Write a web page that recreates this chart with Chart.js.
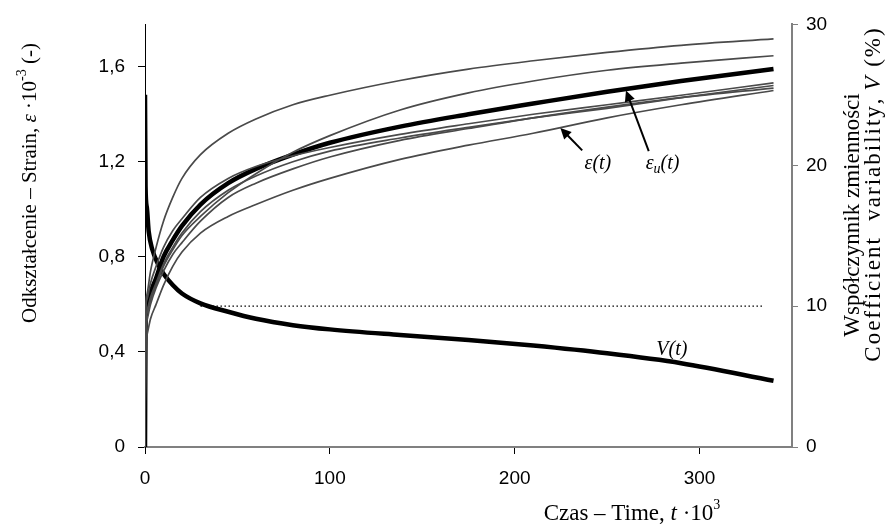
<!DOCTYPE html>
<html>
<head>
<meta charset="utf-8">
<script src="https://cdn.jsdelivr.net/npm/chart.js@4.4.1/dist/chart.umd.min.js"></script>
<style>
  html, body { margin: 0; padding: 0; background: #fff; }
  canvas { display: block; }
</style>
</head>
<body>
<canvas id="chart" width="891" height="527"></canvas>
<script>
// czas t·10^3
const czas = [0, 0.3, 1, 3, 6, 10, 15, 20, 30, 45, 60, 80, 100, 138, 175, 210, 250, 290, 340];

// odkształcenia próbek ε(t)·10^-3
const probkaA = [0, 0.56, 0.64, 0.74, 0.84, 0.95, 1.05, 1.13, 1.23, 1.32, 1.38, 1.44, 1.48, 1.542, 1.59, 1.625, 1.66, 1.69, 1.717];
const probkaB = [0, 0.48, 0.56, 0.62, 0.68, 0.76, 0.83, 0.89, 0.97, 1.07, 1.15, 1.24, 1.31, 1.418, 1.49, 1.54, 1.585, 1.615, 1.646];
const probkaC = [0, 0.55, 0.62, 0.69, 0.76, 0.84, 0.91, 0.96, 1.05, 1.13, 1.18, 1.225, 1.26, 1.315, 1.36, 1.40, 1.44, 1.48, 1.532];
const probkaD = [0, 0.50, 0.57, 0.63, 0.69, 0.77, 0.84, 0.90, 0.99, 1.08, 1.14, 1.20, 1.245, 1.30, 1.345, 1.385, 1.425, 1.47, 1.521];
const probkaE = [0, 0.45, 0.53, 0.60, 0.67, 0.74, 0.81, 0.86, 0.95, 1.05, 1.11, 1.17, 1.22, 1.29, 1.34, 1.385, 1.43, 1.47, 1.51];
const probkaF = [0, 0.40, 0.47, 0.54, 0.60, 0.68, 0.76, 0.82, 0.90, 0.97, 1.02, 1.08, 1.13, 1.21, 1.27, 1.32, 1.385, 1.44, 1.50];

// średnie odkształcenie εu(t)
const srednia = [0, 0.52, 0.59, 0.65, 0.71, 0.80, 0.87, 0.93, 1.02, 1.11, 1.17, 1.23, 1.28, 1.348, 1.40, 1.445, 1.495, 1.54, 1.59];

// współczynnik zmienności V(t) (%)
const czasV = [0, 0.3, 1, 2, 4, 7, 10, 15, 20, 30, 45, 60, 80, 100, 138, 175, 210, 250, 290, 340];
const wspV = [25, 18.5, 17.0, 15.3, 14.0, 13.0, 12.3, 11.5, 10.9, 10.2, 9.6, 9.1, 8.65, 8.35, 7.95, 7.6, 7.2, 6.65, 5.95, 4.7];

// linia 10 %
const czasRef = [30, 335];
const wspRef = [10, 10];

const ticksEps = [0, 0.4, 0.8, 1.2, 1.6];
const ticksV = [0, 10, 20, 30];
const ticksT = [0, 100, 200, 300];

const SANS = '"Liberation Sans", Arial, sans-serif';
const SERIF = '"Liberation Serif", "Times New Roman", serif';

const pts = (xs, ys) => xs.map((x, i) => ({ x, y: ys[i] }));

const szara = (data) => ({
  data: pts(czas, data),
  borderColor: "#4a4a4a",
  borderWidth: 1.7,
  pointRadius: 0,
  cubicInterpolationMode: "monotone",
  yAxisID: "y",
});

// tekst z kursywą / indeksami (ls = odstęp między literami)
const drawRuns = (ctx, runs, cx, cy, rot) => {
  ctx.save();
  ctx.translate(cx, cy);
  ctx.rotate(rot);
  let w = 0;
  runs.forEach((r) => {
    ctx.font = r.font;
    const ls = r.ls || 0;
    r.w = ctx.measureText(r.text).width + ls * r.text.length;
    w += r.w;
  });
  let x = -w / 2;
  ctx.textBaseline = "middle";
  ctx.textAlign = "left";
  ctx.fillStyle = "#000";
  runs.forEach((r) => {
    ctx.font = r.font;
    if (r.ls) {
      let xx = x;
      for (const ch of r.text) {
        ctx.fillText(ch, xx, r.dy || 0);
        xx += ctx.measureText(ch).width + r.ls;
      }
    } else {
      ctx.fillText(r.text, x, r.dy || 0);
    }
    x += r.w;
  });
  ctx.restore();
};

const strzalka = (ctx, x1, y1, x2, y2) => {
  const a = Math.atan2(y2 - y1, x2 - x1);
  const L = 12;
  ctx.save();
  ctx.strokeStyle = "#000";
  ctx.fillStyle = "#000";
  ctx.lineWidth = 2;
  ctx.beginPath();
  ctx.moveTo(x1, y1);
  ctx.lineTo(x2 - Math.cos(a) * L * 0.7, y2 - Math.sin(a) * L * 0.7);
  ctx.stroke();
  ctx.beginPath();
  ctx.moveTo(x2, y2);
  ctx.lineTo(x2 - L * Math.cos(a - 0.45), y2 - L * Math.sin(a - 0.45));
  ctx.lineTo(x2 - L * Math.cos(a + 0.45), y2 - L * Math.sin(a + 0.45));
  ctx.closePath();
  ctx.fill();
  ctx.restore();
};

const f21 = "21px " + SERIF;
const i21 = "italic 21px " + SERIF;
const f23 = "23px " + SERIF;
const i23 = "italic 23px " + SERIF;
const s14 = "14px " + SERIF;
const i20 = "italic 20px " + SERIF;
const i14 = "italic 14px " + SERIF;

const opisy = {
  id: "opisy",
  afterDraw(chart) {
    const { ctx, scales } = chart;
    const x = scales.x, y = scales.y, y2 = scales.y2;

    // tytuły osi
    drawRuns(ctx, [
      { text: "Odkształcenie – Strain, ", font: f21 },
      { text: "ε", font: i21 },
      { text: " ·10", font: f21 },
      { text: "-3", font: s14, dy: -8 },
      { text: " (-)", font: f21 },
    ], 30, 183, -Math.PI / 2);

    drawRuns(ctx, [{ text: "Współczynnik zmienności", font: f23 }], 853, 215, -Math.PI / 2);
    drawRuns(ctx, [
      { text: "Coefficient  variability, ", font: f23, ls: 2 },
      { text: "V", font: i23, ls: 2 },
      { text: " (%)", font: f23, ls: 2 },
    ], 874, 194, -Math.PI / 2);

    drawRuns(ctx, [
      { text: "Czas – Time, ", font: f23 },
      { text: "t", font: i23 },
      { text: " ·10", font: f23 },
      { text: "3", font: s14, dy: -9 },
    ], 632, 514, 0);

    // strzałki i etykiety krzywych
    strzalka(ctx, x.getPixelForValue(236.5), y.getPixelForValue(1.248), x.getPixelForValue(224.7), y.getPixelForValue(1.342));
    strzalka(ctx, x.getPixelForValue(272.5), y.getPixelForValue(1.245), x.getPixelForValue(260.2), y.getPixelForValue(1.50));

    drawRuns(ctx, [{ text: "ε(t)", font: i20 }], x.getPixelForValue(245), y.getPixelForValue(1.19), 0);
    drawRuns(ctx, [
      { text: "ε", font: i20 },
      { text: "u", font: i14, dy: 5 },
      { text: "(t)", font: i20 },
    ], x.getPixelForValue(280), y.getPixelForValue(1.19), 0);
    drawRuns(ctx, [{ text: "V(t)", font: i20 }], x.getPixelForValue(285), y2.getPixelForValue(6.9), 0);
  },
};

const ctx = document.getElementById("chart").getContext("2d");

new Chart(ctx, {
  type: "line",
  data: {
    datasets: [
      szara(probkaA),
      szara(probkaB),
      szara(probkaC),
      szara(probkaD),
      szara(probkaE),
      szara(probkaF),
      {
        data: pts(czas, srednia),
        borderColor: "#000",
        borderWidth: 4.5,
        pointRadius: 0,
        cubicInterpolationMode: "monotone",
        yAxisID: "y",
      },
      {
        data: pts(czasV, wspV),
        borderColor: "#000",
        borderWidth: 4.5,
        pointRadius: 0,
        cubicInterpolationMode: "monotone",
        yAxisID: "y2",
      },
      {
        data: pts(czasRef, wspRef),
        borderColor: "#000",
        borderWidth: 1.3,
        borderDash: [1.5, 2.5],
        pointRadius: 0,
        yAxisID: "y2",
      },
    ],
  },
  options: {
    responsive: false,
    animation: false,
    devicePixelRatio: 1,
    layout: { padding: { top: 18, left: 0, right: 0, bottom: 0 } },
    plugins: {
      legend: { display: false },
      tooltip: { enabled: false },
    },
    scales: {
      x: {
        type: "linear",
        position: "bottom",
        min: 0,
        max: 350,
        afterBuildTicks: (s) => { s.ticks = ticksT.map((v) => ({ value: v })); },
        afterFit: (s) => { s.height = 80; },
        ticks: { color: "#000", font: { size: 19, family: SANS }, padding: 13, maxRotation: 0 },
        grid: { drawOnChartArea: false, tickLength: 7, tickColor: "#000" },
        border: { color: "#808080", width: 2 },
      },
      y: {
        position: "left",
        min: 0,
        max: 1.778,
        afterBuildTicks: (s) => { s.ticks = ticksEps.map((v) => ({ value: v })); },
        afterFit: (s) => { s.width = 145; },
        ticks: {
          color: "#000",
          font: { size: 19, family: SANS },
          padding: 13,
          callback: (v) => (v === 0 ? "0" : v.toFixed(1).replace(".", ",")),
        },
        grid: { drawOnChartArea: false, tickLength: 7, tickColor: "#000" },
        border: { color: "#000", width: 1 },
      },
      y2: {
        position: "right",
        min: 0,
        max: 30,
        afterBuildTicks: (s) => { s.ticks = ticksV.map((v) => ({ value: v })); },
        afterFit: (s) => { s.width = 99; },
        ticks: { color: "#000", font: { size: 19, family: SANS }, padding: 8 },
        grid: { drawOnChartArea: false, tickLength: 6, tickColor: "#808080" },
        border: { color: "#808080", width: 2 },
      },
    },
  },
  plugins: [opisy],
});
</script>
</body>
</html>
